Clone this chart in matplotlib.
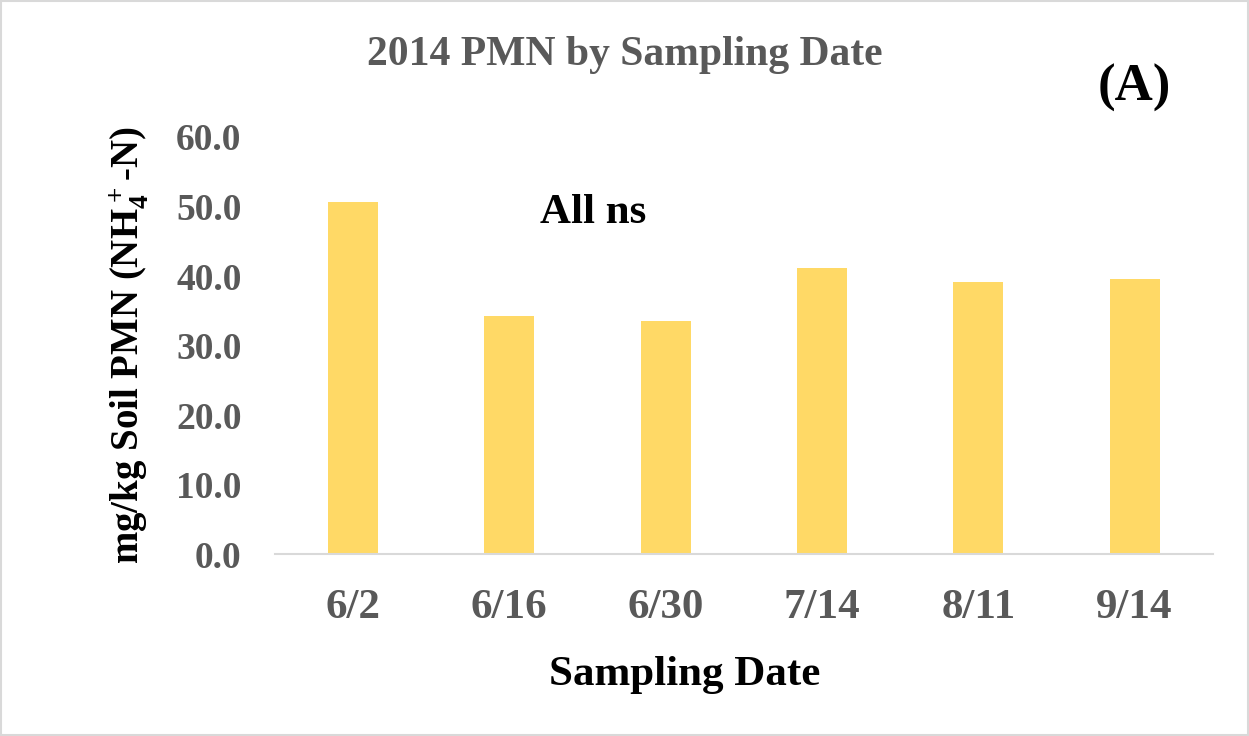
import matplotlib.pyplot as plt
from matplotlib.patches import Rectangle

dates = ['6/2', '6/16', '6/30', '7/14', '8/11', '9/14']
pmn = [50.7, 34.3, 33.6, 41.1, 39.2, 39.6]

plt.rcParams['font.family'] = ['Liberation Serif', 'DejaVu Serif']
plt.rcParams['font.weight'] = 'bold'
plt.rcParams['mathtext.default'] = 'regular'

gray = '#595959'

fig = plt.figure(figsize=(12.49, 7.36), dpi=100)
ax = fig.add_axes([0.220, 0.247, 0.751, 0.567])

ax.bar(dates, pmn, width=0.32, color='#FFD966')
ax.set_ylim(0, 60)
ax.set_xlim(-0.5, len(dates) - 0.5)
ax.set_yticks(range(0, 61, 10))
ax.set_yticklabels([f'{v:.1f}' for v in range(0, 61, 10)])

for s in ['top', 'right', 'left']:
    ax.spines[s].set_visible(False)
ax.spines['bottom'].set_color('#D9D9D9')
ax.spines['bottom'].set_linewidth(1.5)
ax.tick_params(axis='y', length=0, colors=gray, labelsize=27, pad=24)
ax.tick_params(axis='x', length=0, colors=gray, labelsize=31, pad=25)
for lbl in ax.get_xticklabels() + ax.get_yticklabels():
    lbl.set_fontweight('bold')

ax.set_ylabel(r'mg/kg Soil PMN (NH$_4^+$-N)', fontsize=28, fontweight='bold', labelpad=18)

# x label sits a little left of the plot centre in the original
fig.text(0.548, 0.083, 'Sampling Date', ha='center', va='center',
         fontsize=31, fontweight='bold')
fig.text(0.5, 0.925, '2014 PMN by Sampling Date', ha='center', va='center',
         fontsize=30, fontweight='bold', color=gray)
fig.text(0.908, 0.88, '(A)', ha='center', va='center', fontsize=38, fontweight='bold')
fig.text(0.475, 0.71, 'All ns', ha='center', va='center', fontsize=31, fontweight='bold')

# light frame round the chart, like the Excel chart area
fig.patches.append(Rectangle((0.001, 0.001), 0.998, 0.997, transform=fig.transFigure,
                             fill=False, edgecolor='#D9D9D9', linewidth=1.5))

fig.savefig('out.png', dpi=100)
